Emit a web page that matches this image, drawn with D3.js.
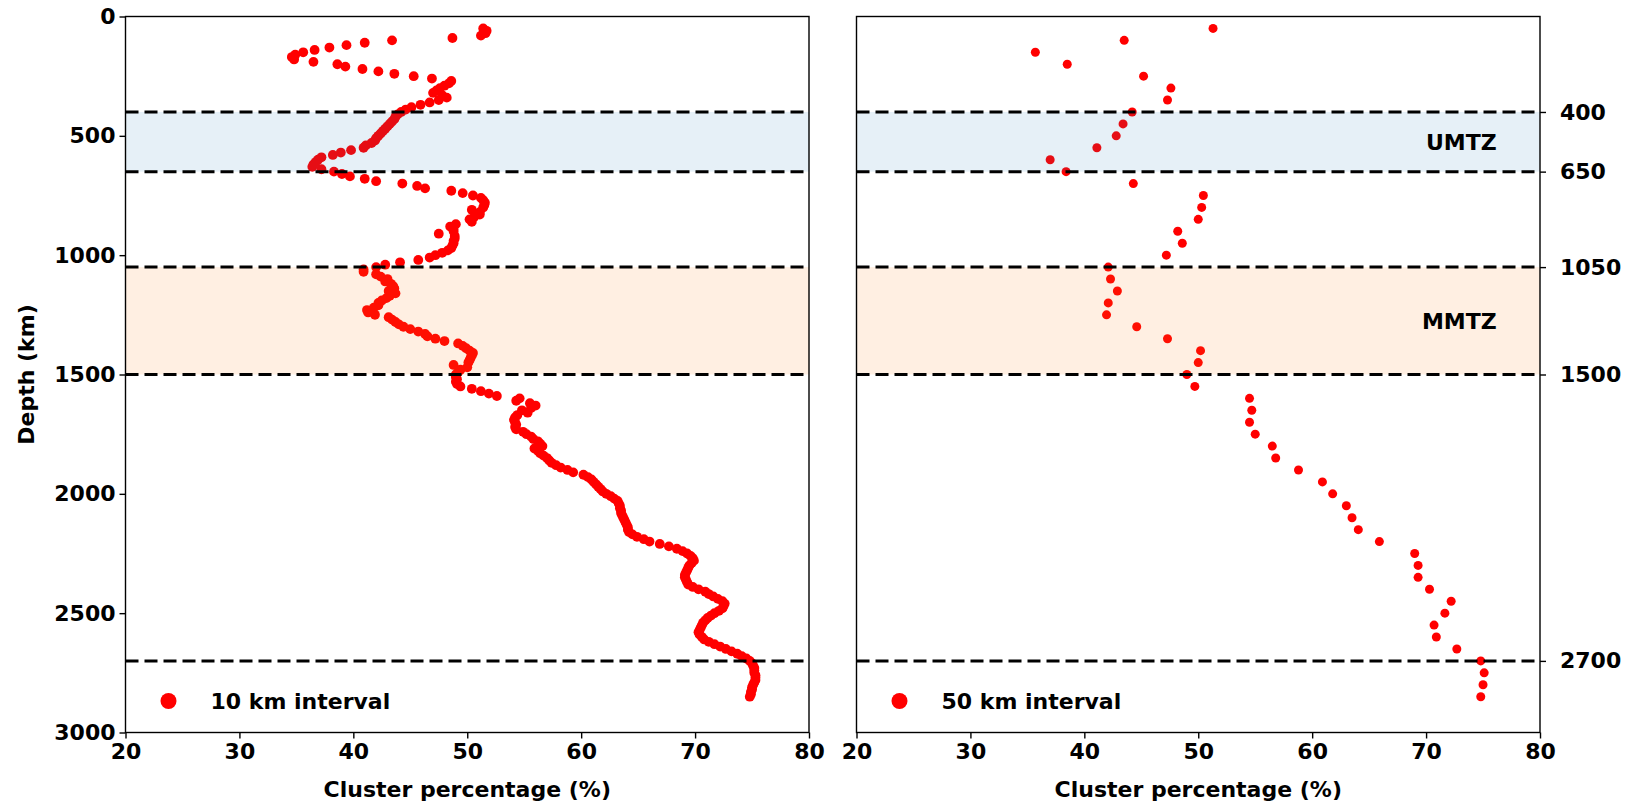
<!DOCTYPE html>
<html>
<head>
<meta charset="utf-8">
<script src="https://cdn.jsdelivr.net/npm/d3@7"></script>
<style>
  body { margin: 0; background: #fff; }
  svg text { font-family: "DejaVu Sans", sans-serif; font-weight: bold; fill: #000; }
</style>
</head>
<body>
<div id="chart"></div>
<script>
// cluster percentage (%) every 10 km, starting at 50 km depth
const pct10 = [
  51.4, 51.7, 51.6, 51.2, 48.7, 43.4, 41.0, 39.4, 37.9, 36.6,
  35.6, 34.9, 34.6, 34.8, 36.5, 38.6, 39.3, 40.8, 42.2, 43.6,
  45.3, 46.9, 48.6, 48.4, 48.0, 47.6, 47.3, 47.0, 47.8, 48.2,
  47.5, 46.7, 45.9, 45.1, 44.6, 44.2, 43.9, 43.7, 43.6, 43.4,
  43.2, 43.0, 42.8, 42.6, 42.4, 42.2, 42.0, 41.9, 41.6, 41.1,
  40.9, 39.8, 38.9, 38.2, 37.2, 36.9, 36.7, 36.5, 36.4, 37.2,
  38.3, 39.0, 39.7, 41.0, 42.0, 44.3, 45.6, 46.3, 48.6, 49.6,
  50.5, 51.2, 51.4, 51.55, 51.5, 51.4, 50.4, 51.1, 51.1, 50.6,
  50.2, 50.4, 49.0, 48.5, 48.8, 48.8, 47.5, 48.9, 48.9, 48.8,
  48.8, 48.7, 48.6, 48.3, 47.8, 47.2, 46.7, 45.7, 44.1, 42.8,
  42.0, 40.9, 40.9, 42.0, 42.4, 43.0, 42.8, 43.3, 43.5, 43.6,
  43.1, 43.7, 43.2, 42.9, 42.5, 42.2, 42.2, 41.8, 41.2, 41.3,
  41.9, 43.1, 43.4, 43.7, 44.0, 44.4, 45.0, 45.7, 46.3, 46.5,
  47.2, 48.0, 49.2, 49.6, 49.9, 50.2, 50.5, 50.4, 50.3, 50.2,
  50.1, 48.8, 50.0, 49.4, 49.2, 49.0, 49.0, 49.1, 49.0, 49.1,
  49.4, 50.4, 51.2, 51.9, 52.6, 54.6, 54.3, 55.5, 56.0, 55.6,
  54.8, 55.3, 54.4, 54.2, 54.1, 54.2, 54.3, 54.2, 54.3, 54.9,
  55.2, 55.6, 55.8, 56.2, 56.4, 56.6, 55.9, 56.2, 56.4, 56.7,
  57.0, 57.2, 57.4, 57.8, 58.2, 58.8, 59.3, 60.2, 60.6, 60.9,
  61.1, 61.3, 61.5, 61.7, 61.9, 62.2, 62.6, 62.9, 63.2, 63.3,
  63.4, 63.4, 63.5, 63.5, 63.6, 63.7, 63.8, 63.9, 64.0, 64.1,
  64.1, 64.2, 64.5, 64.9, 65.5, 66.0, 66.9, 67.7, 68.4, 68.9,
  69.3, 69.6, 69.8, 69.9, 69.7, 69.5, 69.4, 69.3, 69.2, 69.1,
  69.1, 69.2, 69.3, 69.4, 69.8, 70.3, 70.9, 71.2, 71.6, 72.0,
  72.4, 72.6, 72.5, 72.4, 72.1, 71.7, 71.4, 71.1, 70.9, 70.7,
  70.6, 70.5, 70.4, 70.3, 70.4, 70.6, 70.8, 71.2, 71.7, 72.2,
  72.7, 73.2, 73.7, 74.1, 74.5, 74.8, 75.0, 75.1, 75.2, 75.2,
  75.2, 75.3, 75.3, 75.3, 75.2, 75.1, 75.0, 75.0, 74.9, 74.9,
  74.8
];

// cluster percentage (%) every 50 km, starting at 50 km depth
const pct50 = [
  51.3, 43.5, 35.7, 38.5, 45.2, 47.6, 47.3, 44.2, 43.4, 42.8,
  41.1, 37.0, 38.4, 44.3, 50.45, 50.3, 50.0, 48.2, 48.6, 47.2,
  42.1, 42.3, 42.9, 42.1, 41.95, 44.6, 47.3, 50.2, 50.0, 49.0,
  49.7, 54.5, 54.7, 54.5, 55.0, 56.5, 56.8, 58.8, 60.9, 61.8,
  63.0, 63.5, 64.05, 65.9, 69.0, 69.3, 69.3, 70.3, 72.2, 71.65,
  70.7, 70.9, 72.7, 74.8, 75.1, 75.0, 74.8
];

const firstDepth = 50;
const boundaries = [400, 650, 1050, 1500, 2700];
const zoneNames = ["UMTZ", "MMTZ"];
const zoneTops = [400, 1050];
const zoneBottoms = [650, 1500];
const xTicks = [20, 30, 40, 50, 60, 70, 80];
const depthTicks = [0, 500, 1000, 1500, 2000, 2500, 3000];
const legendLabels = ["10 km interval", "50 km interval"];

const W = 1631, H = 806;
const plotTop = 16.5, plotBottom = 732.5;
const fontSize = 22;
const zoneColors = ["#1f77b4", "#ff7f0e"];
const zoneAlpha = [0.11, 0.12];
const fmt = d3.format("d");

let svg = d3.select("#chart").append("svg")
    .attr("width", W)
    .attr("height", H);

let y = d3.scaleLinear().domain([0, 3000]).range([plotTop, plotBottom]);

function styleAxis(g) {
  g.selectAll("text")
    .attr("font-size", fontSize)
    .attr("font-family", "DejaVu Sans")
    .attr("font-weight", "bold");
  g.selectAll("line").attr("stroke", "#000").attr("stroke-width", 1.4);
  g.select(".domain").remove();
}

function drawPanel(x0, x1, values, step, r, legendLabel, isRight) {
  let x = d3.scaleLinear().domain([20, 80]).range([x0, x1]);
  let pts = values.map((v, i) => ({ pct: v, depth: firstDepth + i * step }));
  let g = svg.append("g");

  // the dots
  g.selectAll("circle.dot")
    .data(pts)
    .enter()
      .append("circle")
      .attr("class", "dot")
      .attr("cx", d => x(d.pct))
      .attr("cy", d => y(d.depth))
      .attr("r", r)
      .attr("fill", "#ff0000");

  // transition zone shading (drawn over the dots, semi-transparent)
  zoneTops.forEach((t, i) => {
    g.append("rect")
      .attr("x", x0)
      .attr("y", y(t))
      .attr("width", x1 - x0)
      .attr("height", y(zoneBottoms[i]) - y(t))
      .attr("fill", zoneColors[i])
      .attr("fill-opacity", zoneAlpha[i]);
  });

  // boundary lines
  g.selectAll("line.bound")
    .data(boundaries)
    .enter()
      .append("line")
      .attr("class", "bound")
      .attr("x1", x0)
      .attr("x2", x1)
      .attr("y1", d => y(d))
      .attr("y2", d => y(d))
      .attr("stroke", "#000")
      .attr("stroke-width", 3)
      .attr("stroke-dasharray", "13,6");

  // x axis
  g.append("g")
      .attr("transform", "translate(0," + plotBottom + ")")
      .call(d3.axisBottom(x).tickValues(xTicks).tickFormat(fmt)
        .tickSize(6).tickPadding(5).tickSizeOuter(0))
      .call(styleAxis);

  if (!isRight) {
    g.append("g")
        .attr("transform", "translate(" + x0 + ",0)")
        .call(d3.axisLeft(y).tickValues(depthTicks).tickFormat(fmt)
          .tickSize(6).tickPadding(4).tickSizeOuter(0))
        .call(styleAxis);
  } else {
    g.append("g")
        .attr("transform", "translate(" + x1 + ",0)")
        .call(d3.axisRight(y).tickValues(boundaries).tickFormat(fmt)
          .tickSize(6).tickPadding(14).tickSizeOuter(0))
        .call(styleAxis);

    zoneNames.forEach((name, i) => {
      g.append("text")
        .attr("x", x(76.2))
        .attr("y", y((zoneTops[i] + zoneBottoms[i]) / 2))
        .attr("dy", "0.36em")
        .attr("text-anchor", "end")
        .attr("font-size", fontSize)
        .text(name);
    });
  }

  // frame
  g.append("rect")
    .attr("x", x0)
    .attr("y", plotTop)
    .attr("width", x1 - x0)
    .attr("height", plotBottom - plotTop)
    .attr("fill", "none")
    .attr("stroke", "#000")
    .attr("stroke-width", 1.4);

  // legend
  g.append("circle")
    .attr("cx", x0 + 43)
    .attr("cy", 701)
    .attr("r", 8)
    .attr("fill", "#ff0000");
  g.append("text")
    .attr("x", x0 + 85)
    .attr("y", 701)
    .attr("dy", "0.36em")
    .attr("font-size", fontSize)
    .text(legendLabel);

  // x label
  g.append("text")
    .attr("x", (x0 + x1) / 2)
    .attr("y", 797)
    .attr("text-anchor", "middle")
    .attr("font-size", fontSize)
    .text("Cluster percentage (%)");
}

drawPanel(125.5, 809, pct10, 10, 4.9, legendLabels[0], false);
drawPanel(856.5, 1540, pct50, 50, 4.5, legendLabels[1], true);

// y label
svg.append("text")
  .attr("transform", "translate(34," + (plotTop + plotBottom) / 2 + ") rotate(-90)")
  .attr("text-anchor", "middle")
  .attr("font-size", fontSize)
  .text("Depth (km)");
</script>
</body>
</html>
